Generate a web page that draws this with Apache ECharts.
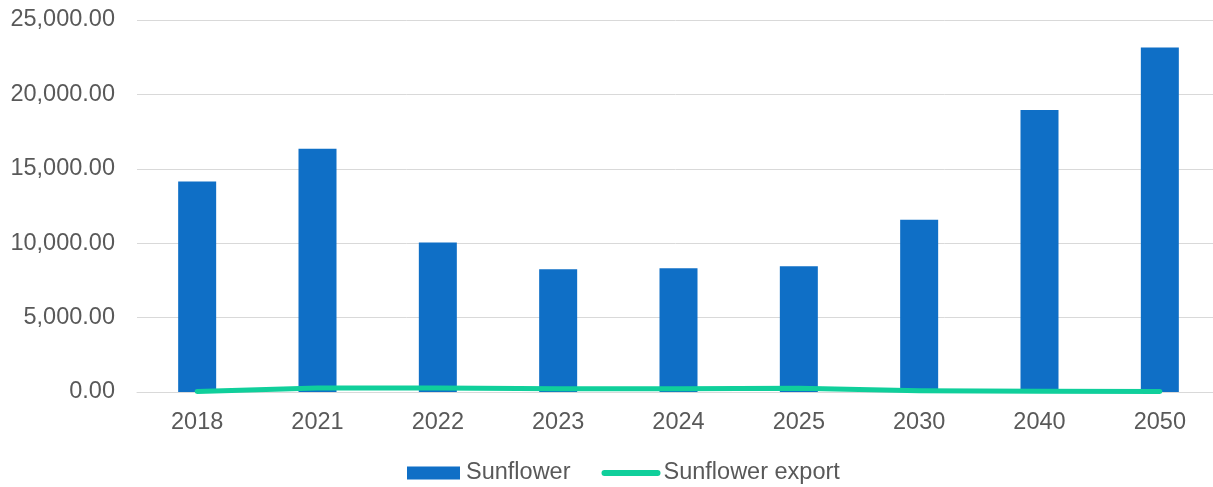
<!DOCTYPE html>
<html>
<head>
<meta charset="utf-8">
<script src="https://cdn.jsdelivr.net/npm/echarts@6/dist/echarts.min.js"></script>
<style>html,body{margin:0;padding:0;background:#fff}#c{width:1213px;height:487px}</style>
</head>
<body>
<div id="c"></div>
<script>
var categories = ['2018','2021','2022','2023','2024','2025','2030','2040','2050'];
var sunflower = [14150, 16350, 10050, 8250, 8320, 8450, 11570, 18950, 23150];
var sunflowerExport = [40, 270, 270, 220, 220, 250, 80, 50, 30];
var yTicks = [0, 5000, 10000, 15000, 20000, 25000];

var chart = echarts.init(document.getElementById('c'));
var font = 'Liberation Sans, Arial, sans-serif';
chart.setOption({
  animation: false,
  grid: {left: 137, top: 20, width: 1083, height: 372, containLabel: false, outerBoundsMode: 'none'},
  legend: {
    top: 461,
    left: 407,
    padding: 0,
    itemWidth: 53,
    itemHeight: 13,
    itemGap: 31,
    textStyle: {fontFamily: font, fontSize: 23.5, color: '#595959', padding: [0, 0, 0, 1]},
    data: [
      {name: 'Sunflower', icon: 'rect'},
      {name: 'Sunflower export', itemStyle: {opacity: 0}, lineStyle: {width: 6, cap: 'round', color: '#10CF9B'}}
    ]
  },
  xAxis: {
    type: 'category',
    data: categories,
    axisLine: {lineStyle: {color: '#D9D9D9', width: 1}},
    axisTick: {show: false},
    axisLabel: {fontFamily: font, fontSize: 23.5, color: '#595959', margin: 19}
  },
  yAxis: {
    type: 'value',
    min: yTicks[0],
    max: yTicks[yTicks.length - 1],
    interval: 5000,
    axisLine: {show: false},
    axisTick: {show: false},
    splitLine: {lineStyle: {color: '#D9D9D9', width: 1}},
    axisLabel: {
      fontFamily: font, fontSize: 23.5, color: '#595959', margin: 22,
      formatter: function (v) {
        return v.toLocaleString('en-US', {minimumFractionDigits: 2, maximumFractionDigits: 2});
      }
    }
  },
  series: [
    {
      name: 'Sunflower',
      type: 'bar',
      data: sunflower,
      barWidth: 38,
      itemStyle: {color: '#0F6FC6'}
    },
    {
      name: 'Sunflower export',
      type: 'line',
      data: sunflowerExport,
      symbol: 'none',
      z: 5,
      itemStyle: {color: '#10CF9B'},
      lineStyle: {color: '#10CF9B', width: 5, cap: 'round', join: 'round'}
    }
  ]
});
</script>
</body>
</html>
